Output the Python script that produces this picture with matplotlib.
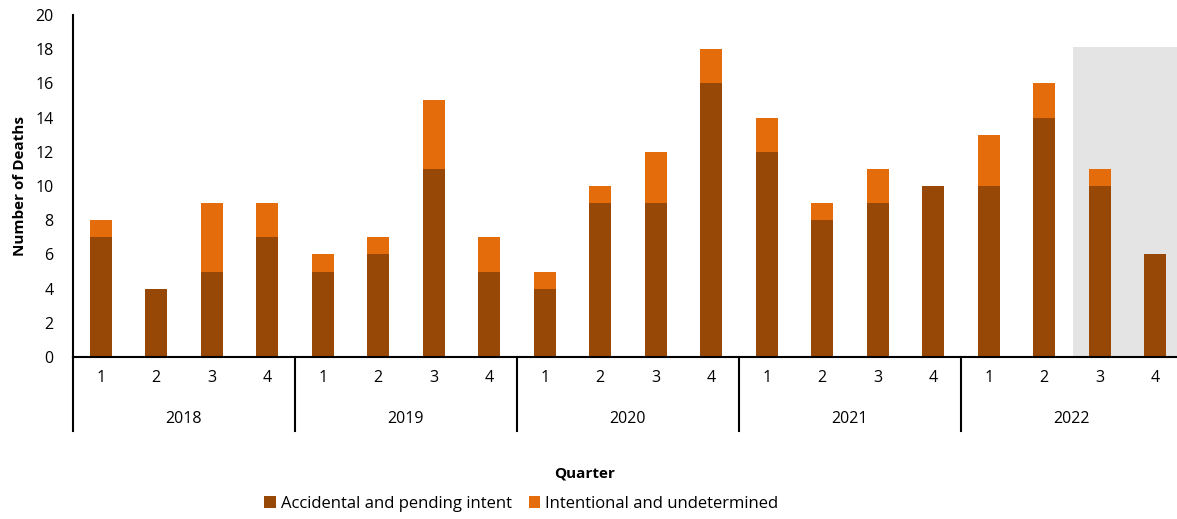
import numpy as np
import matplotlib.pyplot as plt
import matplotlib.transforms as mtransforms

years = ["2018", "2019", "2020", "2021", "2022"]
quarters = ["1", "2", "3", "4"]
accidental = [7, 4, 5, 7, 5, 6, 11, 5, 4, 9, 9, 16, 12, 8, 9, 10, 10, 14, 10, 6]
intentional = [1, 0, 4, 2, 1, 1, 4, 2, 1, 1, 3, 2, 2, 1, 2, 0, 3, 2, 1, 0]

plt.rcParams['font.family'] = ['Open Sans', 'DejaVu Sans']

fig = plt.figure(figsize=(11.77, 5.19), dpi=100)
ax = fig.add_axes([73 / 1177, 1 - 357 / 519, 1110 / 1177, 342 / 519])

x = np.arange(len(accidental))
dark = "#974706"
light = "#E46C0A"

# shaded provisional period
ax.axvspan(17.52, 19.5, ymin=0, ymax=18.1 / 20, color="#E4E4E4", zorder=0, lw=0)

ax.bar(x, accidental, width=0.4, color=dark, label="Accidental and pending intent", zorder=2)
ax.bar(x, intentional, width=0.4, bottom=accidental, color=light,
       label="Intentional and undetermined", zorder=2)

ax.set_xlim(-0.5, 19.5)
ax.set_ylim(0, 20)
ax.set_yticks(range(0, 21, 2))
ax.tick_params(axis="y", length=0, labelsize=11.5, pad=14)
ax.tick_params(axis="x", length=0, labelsize=11.5)
ax.set_xticks(x)
ax.set_xticklabels(quarters * len(years))
for s in ["top", "right"]:
    ax.spines[s].set_visible(False)
ax.spines["left"].set_linewidth(1.5)
ax.spines["bottom"].set_linewidth(1.5)

for lbl in ax.get_xticklabels():
    lbl.set_y(-0.025)

trans = mtransforms.blended_transform_factory(ax.transData, ax.transAxes)
for i, yr in enumerate(years):
    ax.text(i * 4 + 1.5, -0.18, yr, transform=trans, ha="center", va="center", fontsize=11.5)
    ax.plot([i * 4 - 0.5, i * 4 - 0.5], [0, -0.215], transform=trans, color="black",
            lw=1.5, clip_on=False)

ax.set_ylabel("Number of Deaths", fontsize=11, fontweight="bold", labelpad=6)
fig.text(0.497, 1 - 474 / 519, "Quarter", ha="center", va="center", fontsize=11, fontweight="bold")

fig.legend(loc="center", bbox_to_anchor=(0.443, 1 - 504 / 519), ncol=2, frameon=False,
           fontsize=12, handlelength=0.7, handleheight=0.7, handletextpad=0.3,
           columnspacing=1.0)

fig.savefig("out.png", dpi=100)
